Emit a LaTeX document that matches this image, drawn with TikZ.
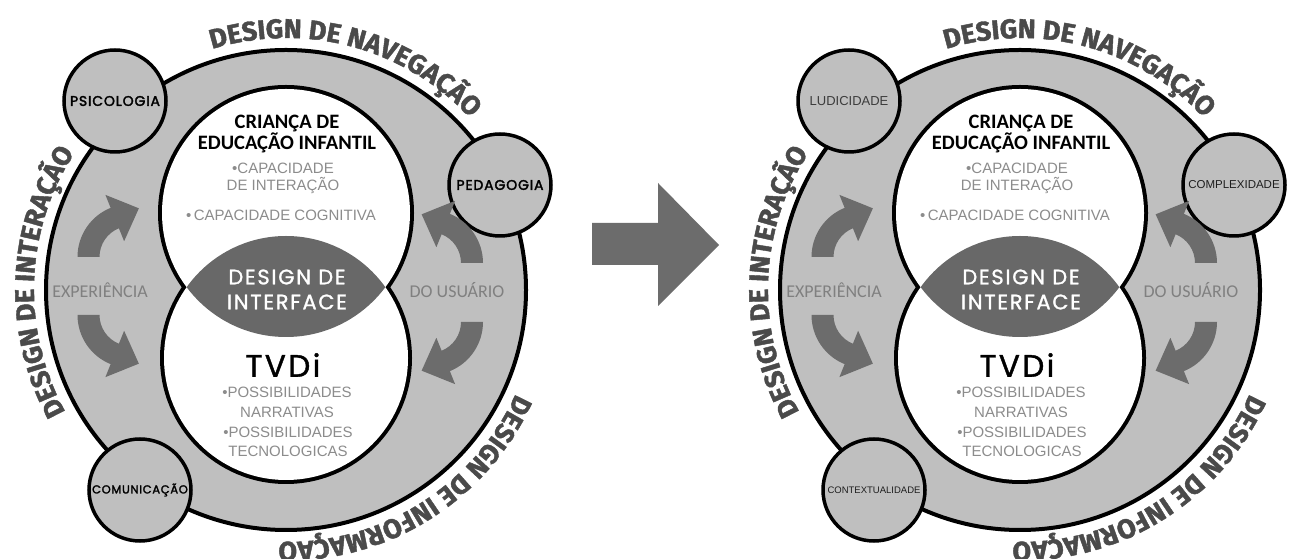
\documentclass[tikz,border=0pt]{standalone}
\usepackage{fontspec}
\setmainfont{Liberation Sans}
\newfontfamily\arcfont{Fira Sans}[BoldFeatures={FakeBold=1.6}]
\newfontfamily\calfont{Carlito}
\newfontfamily\popfont{Poppins}
\newfontfamily\popwide{Poppins}[LetterSpace=8,FakeBold=1.3]
\newfontfamily\popheavy{Poppins}[LetterSpace=6,FakeBold=2.2]
\usetikzlibrary{calc,decorations.text}

\definecolor{ringgray}{RGB}{191,191,191}
\definecolor{lensgray}{RGB}{104,104,104}
\definecolor{arrowgray}{RGB}{108,108,108}
\definecolor{curvetext}{RGB}{74,74,74}
\definecolor{bullettext}{RGB}{140,140,140}
\definecolor{sidetext}{RGB}{128,128,128}

% lettering used on the three arcs around each ring
\newcommand\arcstyle{\arcfont\bfseries\fontsize{27}{27}\selectfont\color{curvetext}}

% thick curved arrow: #1 centre, #2 start angle, #3 end angle, #4 tangent offset (-90 cw, 90 ccw)
\newcommand\bentarrow[4]{%
  \fill[arrowgray] ($(#1)+(#2:31)$) arc[start angle=#2,end angle=#3,radius=31]
    -- ($(#1)+(#3:17)$) -- ($(#1)+(#3:42)+(#3+#4:26)$) -- ($(#1)+(#3:67)$)
    -- ($(#1)+(#3:53)$) arc[start angle=#3,end angle=#2,radius=53] -- cycle;}

% one ring with its two overlapping circles: #1 centre name, #2 #3 #4 small-circle labels
\newcommand\ringdiagram[4]{%
  \draw[ringline,fill=ringgray] (#1) circle[radius=240];
  \node[smallring] (#1-tl) at ($(#1)+(-171,189)$) {};
  \node[smallring] (#1-tr) at ($(#1)+(214,105)$) {};
  \node[smallring] (#1-bl) at ($(#1)+(-146,-200)$) {};
  \node[inner sep=0pt] (#1-tl-txt) at (#1-tl) {#2};
  \node[inner sep=0pt] (#1-tr-txt) at (#1-tr) {#3};
  \node[inner sep=0pt] (#1-bl-txt) at (#1-bl) {#4};
  % child circle (up) and TVDi circle (dn)
  \coordinate (#1-up) at ($(#1)+(0,77)$);
  \coordinate (#1-dn) at ($(#1)+(0,-68)$);
  \draw[draw=black,line width=8pt] (#1-up) circle[radius=124] (#1-dn) circle[radius=122];
  \fill[white] (#1-up) circle[radius=124] (#1-dn) circle[radius=122];
  \begin{scope}
    \clip (#1-up) circle[radius=124];
    \fill[lensgray] (#1-dn) circle[radius=122];
  \end{scope}
  % cycle arrows
  \coordinate (#1-a1) at ($(#1)+(-155.5,33)$);
  \coordinate (#1-a2) at ($(#1)+(-155.5,-25)$);
  \coordinate (#1-a3) at ($(#1)+(144,27)$);
  \coordinate (#1-a4) at ($(#1)+(144,-32)$);
  \bentarrow{#1-a1}{180}{112}{-90}
  \bentarrow{#1-a2}{180}{248}{90}
  \bentarrow{#1-a3}{0}{68}{90}
  \bentarrow{#1-a4}{0}{-68}{-90}
  % texts
  \node[headtxt] (#1-child) at ($(#1)+(1,156)$) {CRIANÇA DE\\EDUCAÇÃO INFANTIL};
  \node[bullettxt] (#1-b1) at ($(#1)+(-3,111.5)$) {•CAPACIDADE\\DE INTERAÇÃO};
  \node[bullettxt] (#1-b2) at ($(#1)+(-5,75)$) {•\,CAPACIDADE COGNITIVA};
  \node[lenstxt] (#1-lens) at ($(#1)+(1,0.5)$) {DESIGN DE\\INTERFACE};
  \node[tvditxt] (#1-tv) at ($(#1)+(-3,-75)$) {TVDi};
  \node[bullettxt,font=\fontsize{15}{20}\selectfont] (#1-b3) at ($(#1)+(1,-112)$) {•POSSIBILIDADES\\NARRATIVAS};
  \node[bullettxt,font=\fontsize{15}{19}\selectfont] (#1-b4) at ($(#1)+(2,-151.5)$) {•POSSIBILIDADES\\TECNOLOGICAS};
  \node[sidetxt] (#1-exp) at ($(#1)+(-186,0)$) {EXPERIÊNCIA};
  \node[sidetxt] (#1-usr) at ($(#1)+(171,0)$) {DO USUÁRIO};
  % lettering around the ring
  \path[decorate,decoration={text along path,text align=center,text={|\arcstyle|DESIGN DE NAVEGAÇÃO}}]
    ($(#1)+(140:252)$) arc[start angle=140,end angle=10,radius=252];
  \path[decorate,decoration={text along path,text align=center,text={|\arcstyle|DESIGN DE INTERAÇÃO}}]
    ($(#1)+(238:252)$) arc[start angle=238,end angle=118,radius=252];
  \path[decorate,decoration={text along path,text align=center,text={|\arcstyle|DESIGN DE INFORMAÇÃO}}]
    ($(#1)+(0:252)$) arc[start angle=0,end angle=-116,radius=252];
}

\begin{document}
\begin{tikzpicture}[x=1pt,y=1pt,
  ringline/.style={draw=black,line width=4pt},
  smallring/.style={circle,draw=black,line width=3.5pt,fill=ringgray,minimum size=102pt,inner sep=0pt},
  headtxt/.style={font=\calfont\bfseries\fontsize{20.5}{18}\selectfont,align=center,inner sep=0pt},
  bullettxt/.style={font=\fontsize{15}{17}\selectfont,text=bullettext,align=center,inner sep=0pt},
  lenstxt/.style={font=\popwide\fontsize{21}{25}\selectfont,text=white,align=center,inner sep=0pt},
  tvditxt/.style={font=\popwide\fontsize{31}{31}\selectfont,inner sep=0pt},
  sidetxt/.style={font=\calfont\fontsize{18}{18}\selectfont,text=sidetext,inner sep=0pt}]
\useasboundingbox (0,0) rectangle (1298,559);
\fill[white] (0,0) rectangle (1298,559);
\coordinate (L) at (286,269);
\coordinate (R) at (1020,269);

\ringdiagram{L}
  {\popheavy\fontsize{14}{14}\selectfont PSICOLOGIA}
  {\popheavy\fontsize{14}{14}\selectfont PEDAGOGIA}
  {\popheavy\fontsize{11.5}{11.5}\selectfont COMUNICAÇÃO}
\ringdiagram{R}
  {\color[RGB]{60,60,60}\fontsize{13}{13}\selectfont LUDICIDADE}
  {\color[RGB]{30,30,30}\fontsize{11.5}{11.5}\selectfont COMPLEXIDADE}
  {\color[RGB]{30,30,30}\fontsize{9.5}{9.5}\selectfont CONTEXTUALIDADE}

% arrow leading from the first ring to the second
\fill[arrowgray] (592,294) -- (658,294) -- (658,253) -- (719,314) -- (658,376)
  -- (658,336) -- (592,336) -- cycle;
\end{tikzpicture}
\end{document}
